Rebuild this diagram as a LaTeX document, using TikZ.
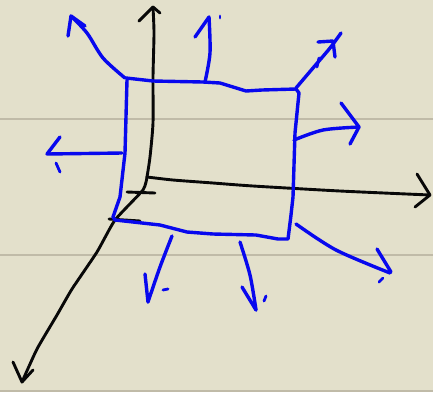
\documentclass[tikz,border=0pt]{standalone}
\definecolor{paper}{RGB}{227,224,203}
\definecolor{rule}{RGB}{192,187,168}
\definecolor{inkblue}{RGB}{8,8,238}
\definecolor{inkblack}{RGB}{8,8,8}
\tikzset{
  blackpen/.style={draw=inkblack,line width=2.9pt,line cap=round,line join=round},
  bluepen/.style={draw=inkblue,line width=3.4pt,line cap=round,line join=round},
  speck/.style={draw=inkblue,line width=2.8pt,line cap=round},
  ruling/.style={draw=rule,line width=1.5pt}
}
\begin{document}
\begin{tikzpicture}[x=1pt,y=-1pt]
  \fill[paper] (0,0) rectangle (433,392);
  \useasboundingbox (0,0) rectangle (433,392);
  \foreach \y in {119,255,391}{\draw[ruling] (0,\y)--(433,\y);}

  % axes
  \draw[blackpen] plot[smooth,tension=.4] coordinates {(147,177) (150,157) (153,123) (153,77) (154,33) (153,7)};
  \draw[blackpen] (139,21)--(153,7)--(160,13);
  \draw[blackpen] plot[smooth,tension=.4] coordinates {(147,177) (173,180) (213,183) (253,186) (340,191) (430,195)};
  \draw[blackpen] (417,174)--(430,195)--(415,207);
  \draw[blackpen] plot[smooth,tension=.3] coordinates {(147,177) (143,190) (115,220) (97,252) (72,289) (57,315) (37,349) (22,382)};
  \draw[blackpen] (13,362)--(22,382)--(33,370);
  \draw[blackpen] (127,192)--(155,193);
  \draw[blackpen] (109,219)--(140,221);

  % square
  \draw[bluepen] (126,78)--(153,81)--(203,82)--(220,83)--(246,91)--(262,90)--(296,89)
    --(299,93)--(295,133)--(293,197)--(291,215)--(288,239)--(278,239)--(256,235)--(213,234)
    --(187,232)--(160,225)--(115,220)--(113,217)--(120,197)--(125,153)--(127,80);

  % normals
  \draw[bluepen] plot[smooth,tension=.5] coordinates {(125,78) (103,58) (87,33) (71,16)};
  \draw[bluepen] (68,36)--(71,16)--(85,26);
  \draw[bluepen] plot[smooth,tension=.5] coordinates {(205,82) (210,53) (209,17)};
  \draw[bluepen] (195,37)--(209,17);
  \draw[speck] (220,16)--(220,18);
  \draw[bluepen] plot[smooth,tension=.5] coordinates {(296,88) (313,68) (330,48) (341,33)};
  \draw[bluepen] (318,42)--(333,41)--(335,57);
  \draw[speck] (319,58)--(317,67);
  \draw[bluepen] plot[smooth,tension=.5] coordinates {(294,140) (323,130) (359,127)};
  \draw[bluepen] (341,103)--(359,127)--(350,144);
  \draw[bluepen] (122,153)--(47,154)--(60,137);
  \draw[speck] (56,163)--(60,172);
  \draw[bluepen] plot[smooth,tension=.5] coordinates {(172,236) (160,267) (148,302)};
  \draw[bluepen] (145,274)--(148,302);
  \draw[speck] (163,290)--(168,289);
  \draw[bluepen] plot[smooth,tension=.5] coordinates {(240,242) (250,275) (256,310)};
  \draw[bluepen] (242,287)--(256,310);
  \draw[speck] (266,296)--(264,301);
  \draw[bluepen] plot[smooth,tension=.5] coordinates {(296,224) (336,250) (390,273)};
  \draw[bluepen] (377,249)--(391,272);
  \draw[speck] (383,278)--(379,282);
\end{tikzpicture}
\end{document}
